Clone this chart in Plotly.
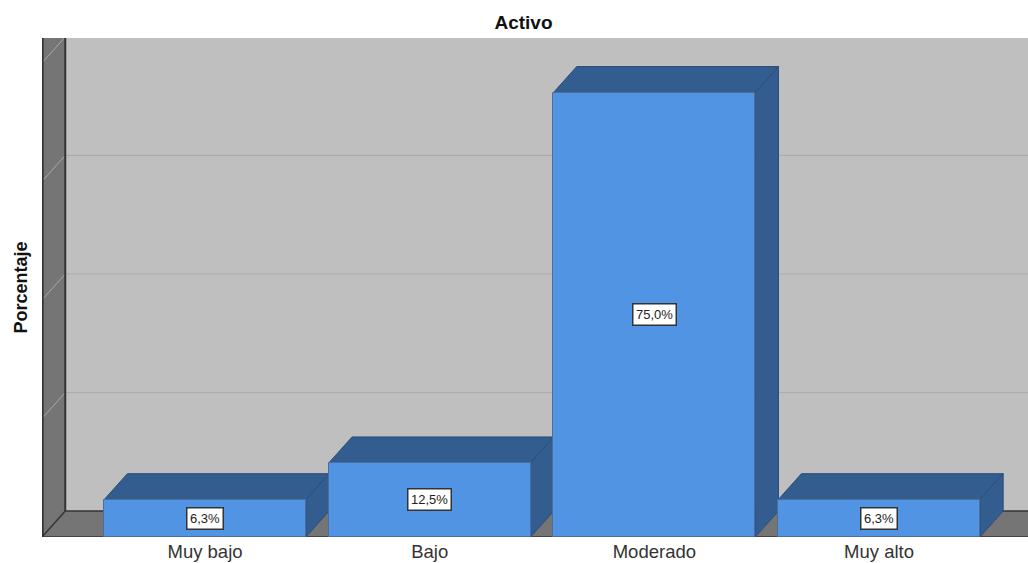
import plotly.graph_objects as go

categories = ["Muy bajo", "Bajo", "Moderado", "Muy alto"]
values = [6.3, 12.5, 75.0, 6.3]
labels = ["6,3%", "12,5%", "75,0%", "6,3%"]
grid_values = [20, 40, 60]
title_text = "Activo"
y_title = "Porcentaje"

FRONT = "#5294E4"
DARK_FACE = "#335C8F"
EDGE_FACE = "#2B4E7C"
WALL = "#757575"
BACK = "#BFBFBF"
GRID = "#ABABAB"
LINE = "#333333"

X_MIN, X_MAX = -0.7255, 3.663
Y_MAX = 84.2
BAR_W = 0.898
DX, DY = 0.1035, 4.382


def poly(points, fill, line=None, width=1):
    path = "M " + " L ".join(f"{x},{y}" for x, y in points) + " Z"
    return dict(type="path", path=path, xref="x", yref="y", layer="below",
                fillcolor=fill, line=dict(color=line or fill, width=width if line else 0))


def seg(x0, y0, x1, y1, color, width):
    return dict(type="line", x0=x0, y0=y0, x1=x1, y1=y1, xref="x", yref="y",
                layer="below", line=dict(color=color, width=width))


shapes = [
    poly([(X_MIN + DX, DY), (X_MAX, DY), (X_MAX, Y_MAX), (X_MIN + DX, Y_MAX)], BACK),
    poly([(X_MIN, 0), (X_MIN + DX, DY), (X_MIN + DX, Y_MAX), (X_MIN, Y_MAX)], WALL),
    poly([(X_MIN, 0), (X_MIN + DX, DY), (X_MAX, DY), (X_MAX, 0)], WALL),
]
for g in grid_values:
    shapes.append(seg(X_MIN + DX, g + DY, X_MAX, g + DY, GRID, 1))
for g in grid_values + [80]:
    shapes.append(seg(X_MIN, g, X_MIN + DX, g + DY, "#A8A8A8", 1))
shapes += [
    seg(X_MIN + 0.003, 0, X_MIN + 0.003, Y_MAX, LINE, 2),
    seg(X_MIN + DX, DY, X_MIN + DX, Y_MAX, LINE, 2),
    seg(X_MIN, 0, X_MIN + DX, DY, LINE, 1.5),
    seg(X_MIN + DX, DY, X_MAX, DY, LINE, 1.5),
    seg(X_MIN, 0, X_MAX, 0, LINE, 1.5),
]
for i, v in enumerate(values):
    l, r = i - BAR_W / 2, i + BAR_W / 2
    shapes.append(poly([(l, v), (r, v), (r + DX, v + DY), (l + DX, v + DY)], DARK_FACE, EDGE_FACE))
    shapes.append(poly([(r, 0), (r + DX, DY), (r + DX, v + DY), (r, v)], DARK_FACE, EDGE_FACE))

fig = go.Figure(go.Bar(
    x=list(range(len(categories))), y=values, width=BAR_W,
    marker=dict(color=FRONT, line=dict(color="#4A6F9C", width=1)),
    hoverinfo="skip",
))

annotations = [
    dict(x=i, y=v / 2, xref="x", yref="y", text=t, showarrow=False,
         font=dict(family="Liberation Sans", size=13, color="#222222"),
         bgcolor="#FFFFFF", bordercolor="#333333", borderwidth=1.5, borderpad=2.5)
    for i, (v, t) in enumerate(zip(values, labels))
]

fig.update_layout(
    width=1028, height=563,
    margin=dict(l=42, r=0, t=38, b=25.5, autoexpand=False),
    paper_bgcolor="#FFFFFF", plot_bgcolor=BACK,
    showlegend=False, bargap=0,
    title=dict(text=title_text, x=523.5 / 1028, xanchor="center", y=1 - 22.5 / 563, yanchor="middle",
               font=dict(family="Liberation Sans", size=19, color="#111111", weight="bold")),
    shapes=shapes, annotations=annotations,
    xaxis=dict(range=[X_MIN, X_MAX], tickmode="array", tickvals=list(range(len(categories))),
               ticktext=categories, showgrid=False, zeroline=False, showline=False, ticks="",
               ticklabelstandoff=1,
               tickfont=dict(family="Liberation Sans", size=18.5, color="#333333"), automargin=False),
    yaxis=dict(range=[0, Y_MAX], showgrid=False, zeroline=False, showline=False,
               showticklabels=False, ticks="", automargin=False,
               title=dict(text=y_title, standoff=8,
                          font=dict(family="Liberation Sans", size=18, color="#111111", weight="bold"))),
)

fig.write_html("out.html", config={"displayModeBar": False},
               post_script="document.body.style.margin='0';document.documentElement.style.overflow='hidden';")
